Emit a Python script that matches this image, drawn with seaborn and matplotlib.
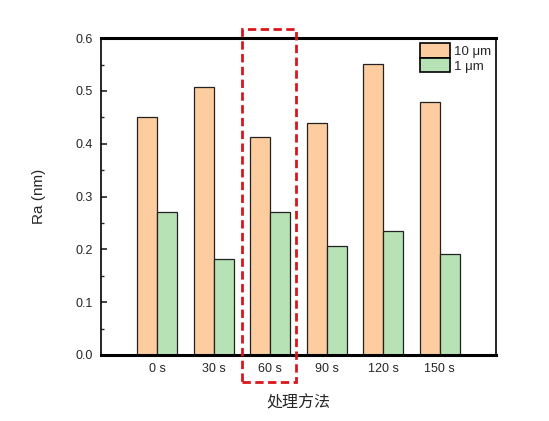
import numpy as np
import pandas as pd
import matplotlib
matplotlib.use('Agg')
import matplotlib.pyplot as plt
import seaborn as sns
from matplotlib.patches import Rectangle
from matplotlib.ticker import MultipleLocator


# data
times = ['0 s', '30 s', '60 s', '90 s', '120 s', '150 s']
ra_10um = [0.450, 0.508, 0.413, 0.440, 0.551, 0.479]
ra_1um = [0.270, 0.181, 0.270, 0.207, 0.234, 0.191]
series = ['10 μm', '1 μm']
colors = ['#FDCDA0', '#B6E2B6']
highlight = '60 s'

df = pd.DataFrame({
    'time': times * 2,
    'Ra': ra_10um + ra_1um,
    'size': [series[0]] * len(times) + [series[1]] * len(times),
})

sns.set_style('white')
plt.rcParams['font.family'] = ['Liberation Sans', 'Noto Sans CJK SC', 'DejaVu Sans']

fig = plt.figure(figsize=(5.49, 4.21), dpi=100)
ax = fig.add_axes([0.184, 0.157, 0.7195, 0.7525])

sns.barplot(data=df, x='time', y='Ra', hue='size', order=times, hue_order=series,
            palette=colors, width=0.71, edgecolor='#222222', linewidth=0.9,
            saturation=1, ax=ax)

ax.set_xlim(-1, len(times))
ax.set_ylim(0, 0.6)
ax.yaxis.set_major_locator(MultipleLocator(0.1))
ax.yaxis.set_minor_locator(MultipleLocator(0.05))
ax.tick_params(axis='y', which='major', direction='in', length=4, width=1.2,
               labelsize=9, left=True, pad=6)
ax.tick_params(axis='y', which='minor', direction='in', length=2.5, width=1.0, left=True)
ax.tick_params(axis='x', length=0, labelsize=9, pad=6)
ax.set_yticklabels([f'{v:.1f}' for v in ax.get_yticks()])

for side in ['top', 'bottom']:
    ax.spines[side].set_linewidth(2.2)
for side in ['left', 'right']:
    ax.spines[side].set_linewidth(1.2)
for sp in ax.spines.values():
    sp.set_color('black')

ax.set_ylabel('Ra (nm)', fontsize=11, labelpad=21)
ax.set_xlabel('处理方法', fontsize=11.5, labelpad=14,
              family=['Noto Sans CJK SC', 'DejaVu Sans'])

# red dashed highlight box around one category
i = times.index(highlight)
box = Rectangle((i - 0.5, -0.085), 0.96, 1.115, transform=ax.get_xaxis_transform(),
                fill=False, edgecolor='#D9161C', linewidth=2.0, linestyle=(0, (3, 1.6)),
                clip_on=False, zorder=5)
ax.add_patch(box)

leg = ax.legend(loc='upper right', frameon=False, fontsize=9.5, handlelength=2.3,
                handleheight=1.3, labelspacing=0.0, handletextpad=0.25,
                borderaxespad=0.2, borderpad=0.2)
for h in leg.get_patches():
    h.set_edgecolor('black')
    h.set_linewidth(1.2)

plt.savefig('out.png', dpi=100)
